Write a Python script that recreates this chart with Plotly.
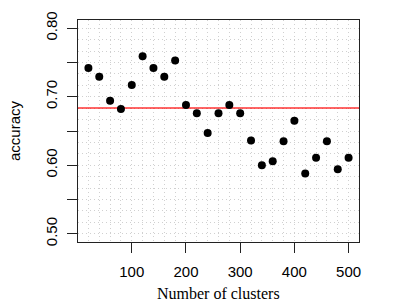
import numpy as np
import plotly.graph_objects as go

# Data
clusters = [20, 40, 60, 80, 100, 120, 140, 160, 180, 200, 220, 240, 260,
            280, 300, 320, 340, 360, 380, 400, 420, 440, 460, 480, 500]
accuracy = [0.742, 0.729, 0.694, 0.682, 0.717, 0.759, 0.742, 0.729, 0.753,
            0.688, 0.676, 0.647, 0.676, 0.688, 0.676, 0.636, 0.600, 0.606,
            0.635, 0.665, 0.588, 0.611, 0.635, 0.594, 0.611]
reference_level = 0.6835

x_ticks = [100, 200, 300, 400, 500]
y_ticks = [0.50, 0.55, 0.60, 0.65, 0.70, 0.75, 0.80]
y_tick_text = ["0.50", "", "0.60", "", "0.70", "", "0.80"]
x_grid = list(range(20, 501, 20))
y_grid = [0.5 + i * 0.3 / 18 for i in range(19)]

SANS = "Liberation Sans, Arial, sans-serif"
SERIF = "Liberation Serif, Times New Roman, serif"

fig = go.Figure()

fig.add_trace(go.Scatter(
    x=[0.8, 519.2], y=[reference_level, reference_level], mode="lines",
    line=dict(color="rgba(255,0,0,0.6)", width=2), hoverinfo="skip",
    showlegend=False))

fig.add_trace(go.Scatter(
    x=clusters, y=accuracy, mode="markers",
    marker=dict(color="black", size=8, line=dict(width=0)),
    showlegend=False))

fig.update_layout(
    width=393, height=304,
    margin=dict(l=78, r=34, t=20, b=62),
    paper_bgcolor="white", plot_bgcolor="white",
    font=dict(family=SANS, size=15, color="black"),
    showlegend=False,
)

fig.update_xaxes(
    range=[0.8, 519.2], tickmode="array", tickvals=x_ticks,
    ticks="outside", ticklen=10, tickwidth=1, tickcolor="#222",
    ticklabelstandoff=6,
    showgrid=False, zeroline=False,
    showline=True, linecolor="#222", linewidth=1, mirror=True,
    tickfont=dict(family=SANS, size=15, color="black"),
    minor=dict(tickmode="array", tickvals=x_grid, showgrid=True,
               gridcolor="#d0d0d0", griddash="1px,3px", gridwidth=1, ticks=""),
)
fig.update_yaxes(
    range=[0.488, 0.812], tickmode="array", tickvals=y_ticks,
    ticktext=y_tick_text, tickangle=-90,
    ticks="outside", ticklen=10, tickwidth=1, tickcolor="#222",
    ticklabelstandoff=4,
    showgrid=False, zeroline=False,
    showline=True, linecolor="#222", linewidth=1, mirror=True,
    tickfont=dict(family=SANS, size=15, color="black"),
    minor=dict(tickmode="array", tickvals=y_grid, showgrid=True,
               gridcolor="#d0d0d0", griddash="1px,3px", gridwidth=1, ticks=""),
)

fig.add_annotation(text="Number of clusters", xref="paper", yref="paper",
                   x=0.5, y=-0.23, xanchor="center", yanchor="middle",
                   showarrow=False, font=dict(family=SERIF, size=16, color="black"))
fig.add_annotation(text="accuracy", xref="paper", yref="paper",
                   x=(14 - 78) / 281, y=0.5, xanchor="center", yanchor="middle",
                   textangle=-90, showarrow=False,
                   font=dict(family=SANS, size=15, color="black"))

fig.write_html("out.html", config={"displayModeBar": False},
               post_script="document.body.style.margin='0';document.body.style.overflow='hidden';")
